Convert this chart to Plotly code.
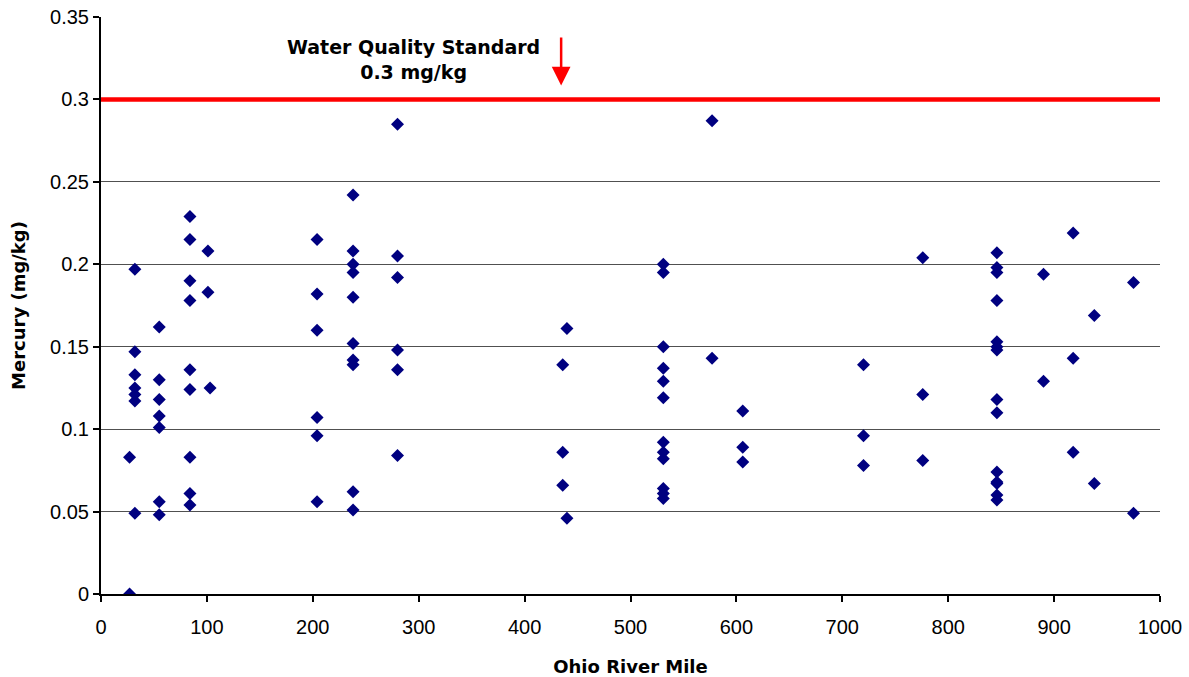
import plotly.graph_objects as go

# River mile of each sample
miles = [
    27, 27,
    32, 32, 32, 32, 32, 32, 32,
    55, 55, 55, 55, 55, 55, 55,
    84, 84, 84, 84, 84, 84, 84, 84, 84,
    101, 101, 103,
    204, 204, 204, 204, 204, 204,
    238, 238, 238, 238, 238, 238, 238, 238, 238, 238,
    280, 280, 280, 280, 280, 280,
    436, 436, 436, 440, 440,
    531, 531, 531, 531, 531, 531, 531, 531, 531, 531, 531, 531,
    577, 577,
    606, 606, 606,
    720, 720, 720,
    776, 776, 776,
    846, 846, 846, 846, 846, 846, 846, 846, 846, 846, 846, 846, 846, 846,
    890, 890,
    918, 918, 918,
    938, 938,
    975, 975,
]

# Mercury concentration (mg/kg)
mercury = [
    0.083, 0.0,
    0.197, 0.147, 0.133, 0.125, 0.121, 0.117, 0.049,
    0.162, 0.130, 0.118, 0.108, 0.101, 0.056, 0.048,
    0.229, 0.215, 0.190, 0.178, 0.136, 0.124, 0.083, 0.061, 0.054,
    0.208, 0.183, 0.125,
    0.215, 0.182, 0.160, 0.107, 0.096, 0.056,
    0.242, 0.208, 0.200, 0.195, 0.180, 0.152, 0.142, 0.139, 0.062, 0.051,
    0.285, 0.205, 0.192, 0.148, 0.136, 0.084,
    0.139, 0.086, 0.066, 0.161, 0.046,
    0.200, 0.195, 0.150, 0.137, 0.129, 0.119, 0.092, 0.086, 0.082, 0.064, 0.061, 0.058,
    0.287, 0.143,
    0.111, 0.089, 0.080,
    0.139, 0.096, 0.078,
    0.204, 0.121, 0.081,
    0.207, 0.198, 0.195, 0.178, 0.153, 0.150, 0.148, 0.118, 0.110, 0.074, 0.068, 0.067, 0.060, 0.057,
    0.194, 0.129,
    0.219, 0.143, 0.086,
    0.169, 0.067,
    0.189, 0.049,
]

standard_x = [0, 1000]
standard_y = [0.3, 0.3]

y_ticks = [0, 0.05, 0.1, 0.15, 0.2, 0.25, 0.3, 0.35]
y_tick_text = ["0", "0.05", "0.1", "0.15", "0.2", "0.25", "0.3", "0.35"]
x_ticks = [0, 100, 200, 300, 400, 500, 600, 700, 800, 900, 1000]

TICK_FONT = "Liberation Sans, Arial, sans-serif"
BOLD_FONT = "DejaVu Sans, Verdana, sans-serif"

fig = go.Figure()
fig.add_trace(go.Scatter(
    x=standard_x, y=standard_y, mode="lines",
    line=dict(color="#FF0000", width=4.5), hoverinfo="skip", showlegend=False,
))
fig.add_trace(go.Scatter(
    x=miles, y=mercury, mode="markers",
    marker=dict(symbol="diamond", color="#000080", size=10, line=dict(width=0)),
    showlegend=False,
))

fig.add_annotation(
    x=295, y=0.3245, xref="x", yref="y",
    text="<b>Water Quality Standard</b><br><b>0.3 mg/kg</b>",
    showarrow=False, align="center",
    font=dict(family=BOLD_FONT, size=19, color="#000000"),
)
fig.add_annotation(
    x=434.5, y=0.3085, ax=434.5, ay=0.3385,
    xref="x", yref="y", axref="x", ayref="y",
    text="", showarrow=True, arrowhead=2, arrowsize=1.5, arrowwidth=2.5,
    arrowcolor="#FF0000",
)

fig.update_layout(
    width=1189, height=677,
    margin=dict(l=101, r=29, t=17, b=83),
    paper_bgcolor="white", plot_bgcolor="white",
    font=dict(family=TICK_FONT, size=20, color="#000000"),
    xaxis=dict(
        range=[0, 1000], tickvals=x_ticks, showgrid=False, zeroline=False,
        showline=True, linecolor="#000000", linewidth=2,
        ticks="outside", ticklen=6, tickwidth=2, tickcolor="#000000",
        tickfont=dict(family=TICK_FONT, size=20), ticklabelstandoff=8,
        automargin=False,
        title=dict(text="<b>Ohio River Mile</b>",
                   font=dict(family=BOLD_FONT, size=18), standoff=28),
    ),
    yaxis=dict(
        range=[0, 0.35], tickvals=y_ticks, ticktext=y_tick_text,
        showgrid=True, gridcolor="#505050", gridwidth=1, zeroline=False,
        showline=True, linecolor="#000000", linewidth=2,
        ticks="outside", ticklen=6, tickwidth=2, tickcolor="#000000",
        tickfont=dict(family=TICK_FONT, size=20),
        automargin=False,
        title=dict(text="<b>Mercury (mg/kg)</b>",
                   font=dict(family=BOLD_FONT, size=18), standoff=20),
    ),
)

fig.write_html(
    "out.html",
    config={"displayModeBar": False},
    post_script="document.body.style.margin='0';document.body.style.overflow='hidden';",
)
